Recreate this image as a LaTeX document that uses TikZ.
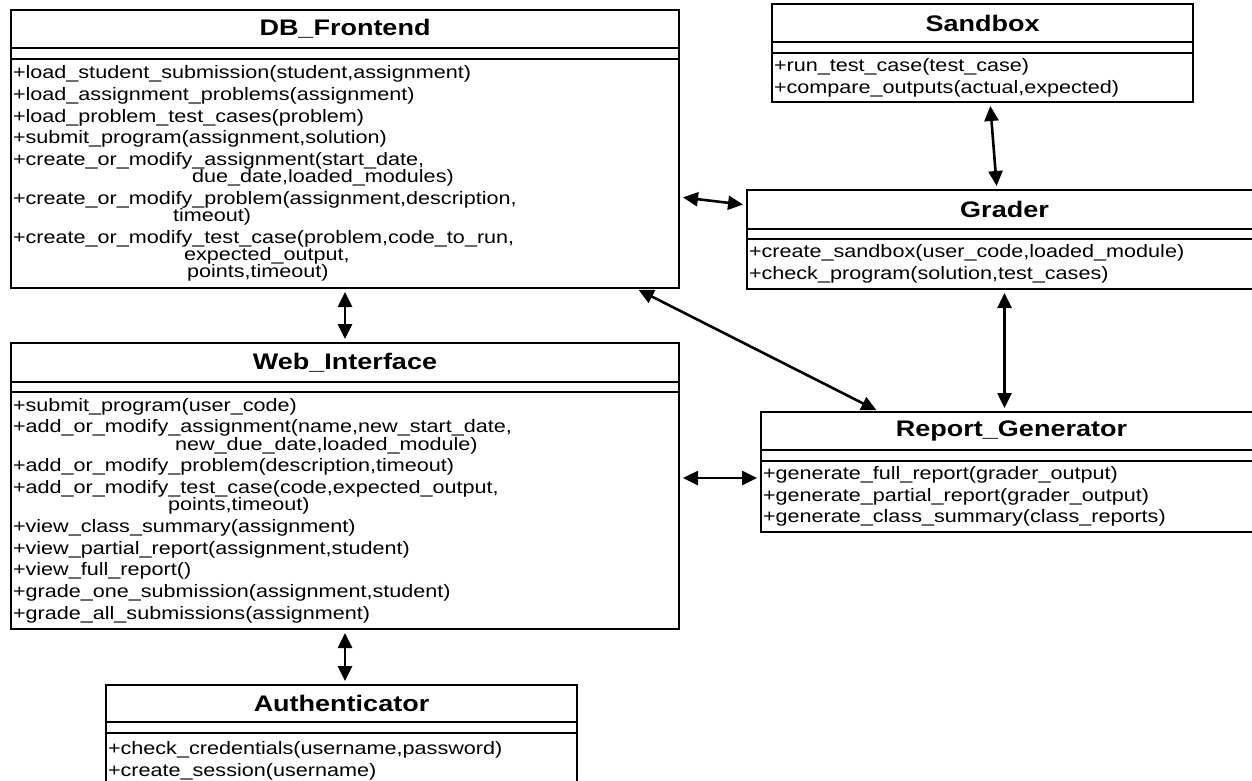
\documentclass[tikz,border=0pt]{standalone}
\usepackage{fontspec}
\setmainfont{Liberation Sans}[FakeStretch=1.2]
\usetikzlibrary{positioning, arrows.meta}
\tikzstyle{classname} = [rectangle, 
draw=black, 
line width=2.8pt, 
outer sep=0pt, 
inner sep=0pt, 
anchor=north west, 
minimum height=38pt, 
font=\fontsize{22.5}{27}\selectfont\bfseries]
\tikzstyle{classgap} = [rectangle, 
draw=black, 
line width=2.8pt, 
outer sep=0pt, 
inner sep=0pt, 
minimum height=11pt]
\tikzstyle{classops} = [rectangle, 
draw=black, 
line width=2.8pt, 
outer sep=0pt, 
inner xsep=2pt, 
inner ysep=0pt, 
align=left, 
font=\fontsize{18}{21.7}\selectfont]
\tikzstyle{link} = [line width=2.6pt,<->,>={Triangle[length=15pt,width=14pt]},
shorten <=4pt, shorten >=4pt]

\begin{document}
\begin{tikzpicture}[x=1pt, y=-1pt]
  \useasboundingbox (0,0) rectangle (1252,780);
  \clip (0,0) rectangle (1252,780);

  \node (dbname) [classname, minimum width=668pt] at (11,10) {DB\_Frontend};
  \node (dbgap) [classgap, minimum width=668pt, below=0pt of dbname] {};
  \node (dbops) [classops, text width=664pt, minimum height=229pt, below=0pt of dbgap] {+load\_student\_submission(student,assignment)\\
+load\_assignment\_problems(assignment)\\
+load\_problem\_test\_cases(problem)\\
+submit\_program(assignment,solution)\\
+create\_or\_modify\_assignment(start\_date,\\[-4.5pt]
\hspace*{179pt}due\_date,loaded\_modules)\\
+create\_or\_modify\_problem(assignment,description,\\[-4.5pt]
\hspace*{160pt}timeout)\\
+create\_or\_modify\_test\_case(problem,code\_to\_run,\\[-4.5pt]
\hspace*{171pt}expected\_output,\\[-4.5pt]
\hspace*{174pt}points,timeout)};

  \node (sbname) [classname, minimum width=421pt] at (772,4) {Sandbox};
  \node (sbgap) [classgap, minimum width=421pt, below=0pt of sbname] {};
  \node (sbops) [classops, text width=417pt, minimum height=49pt, below=0pt of sbgap] {+run\_test\_case(test\_case)\\
+compare\_outputs(actual,expected)};

  \node (grname) [classname, minimum width=515pt, minimum height=39pt] at (747,190) {Grader};
  \node (grgap) [classgap, minimum width=515pt, minimum height=10pt, below=0pt of grname] {};
  \node (grops) [classops, text width=511pt, minimum height=50pt, below=0pt of grgap] {+create\_sandbox(user\_code,loaded\_module)\\
+check\_program(solution,test\_cases)};

  \node (webname) [classname, minimum width=668pt, minimum height=39pt] at (11,343) {Web\_Interface};
  \node (webgap) [classgap, minimum width=668pt, minimum height=10pt, below=0pt of webname] {};
  \node (webops) [classops, text width=664pt, minimum height=237pt, below=0pt of webgap] {+submit\_program(user\_code)\\
+add\_or\_modify\_assignment(name,new\_start\_date,\\[-4.5pt]
\hspace*{162pt}new\_due\_date,loaded\_module)\\
+add\_or\_modify\_problem(description,timeout)\\
+add\_or\_modify\_test\_case(code,expected\_output,\\[-4.5pt]
\hspace*{155pt}points,timeout)\\
+view\_class\_summary(assignment)\\
+view\_partial\_report(assignment,student)\\
+view\_full\_report()\\
+grade\_one\_submission(assignment,student)\\
+grade\_all\_submissions(assignment)};

  \node (rgname) [classname, minimum width=501pt] at (761,412) {Report\_Generator};
  \node (rggap) [classgap, minimum width=501pt, below=0pt of rgname] {};
  \node (rgops) [classops, text width=497pt, minimum height=71pt, below=0pt of rggap] {+generate\_full\_report(grader\_output)\\
+generate\_partial\_report(grader\_output)\\
+generate\_class\_summary(class\_reports)};

  \node (auname) [classname, minimum width=471pt, minimum height=37pt] at (106,685) {Authenticator};
  \node (augap) [classgap, minimum width=471pt, below=0pt of auname] {};
  \node (auops) [classops, text width=467pt, minimum height=55pt, below=0pt of augap] {+check\_credentials(username,password)\\
+create\_session(username)};

  \coordinate (rgport) at ([yshift=18.5pt]rgops.west);

  \draw [link] ([yshift=-23.5pt]dbops.east) -- ([yshift=4.5pt]grname.west);
  \draw [link] ([xshift=7.5pt]sbops.south) -- ([xshift=-7.5pt]grname.north);
  \draw [link] (grops.south) -- (grops.south |- rgname.north);
  \draw [link] ([xshift=-44pt]dbops.south east) -- ([xshift=119pt]rgname.north west);
  \draw [link] (dbops.south) -- (webname.north);
  \draw [link] (rgport -| webops.east) -- (rgport);
  \draw [link] (webops.south) -- (webops.south |- auname.north);
\end{tikzpicture}
\end{document}
